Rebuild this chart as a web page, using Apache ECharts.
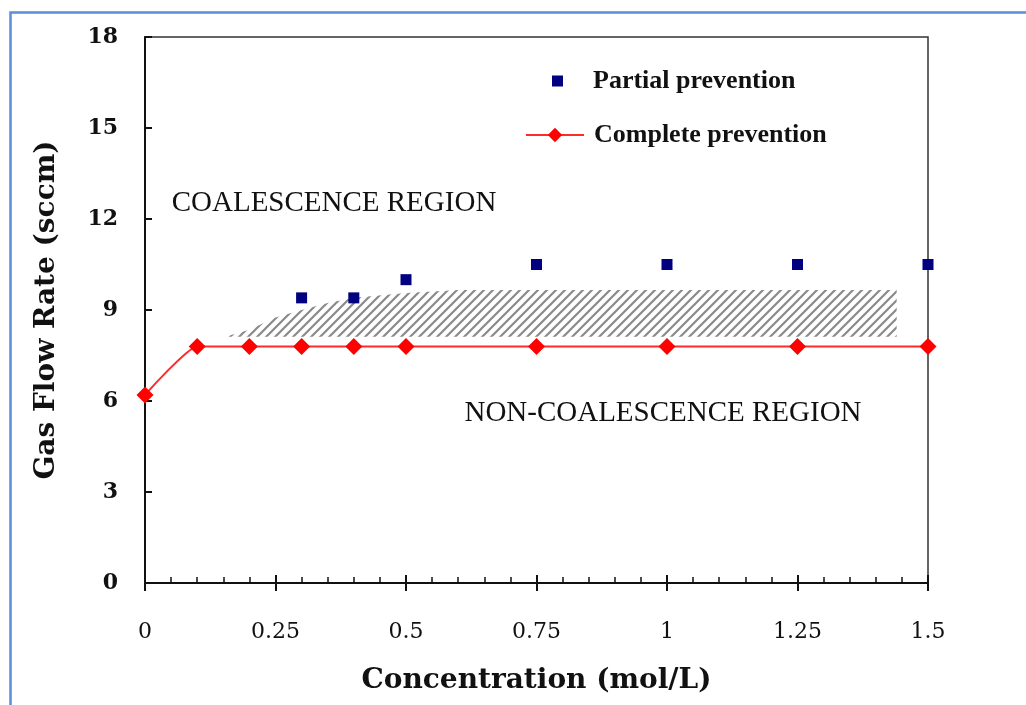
<!DOCTYPE html>
<html>
<head>
<meta charset="utf-8">
<script src="https://cdn.jsdelivr.net/npm/echarts@6/dist/echarts.min.js"></script>
<style>html,body{margin:0;padding:0;background:#fff}#c{width:1026px;height:705px}</style>
</head>
<body>
<div id="c"></div>
<script>
// ---- data ----
const partialX = [0.3, 0.4, 0.5, 0.75, 1.0, 1.25, 1.5];
const partialY = [9.4, 9.4, 10.0, 10.5, 10.5, 10.5, 10.5];
const completeX = [0, 0.1, 0.2, 0.3, 0.4, 0.5, 0.75, 1.0, 1.25, 1.5];
const completeY = [6.2, 7.8, 7.8, 7.8, 7.8, 7.8, 7.8, 7.8, 7.8, 7.8];
// hatched transition band (upper boundary and lower boundary)
const bandX = [0.16, 0.2, 0.25, 0.3, 0.35, 0.4, 0.5, 0.6, 1.44];
const bandUpper = [8.15, 8.35, 8.75, 9.0, 9.23, 9.4, 9.56, 9.66, 9.66];
const bandLower = [8.12, 8.12, 8.12, 8.12, 8.12, 8.12, 8.12, 8.12, 8.12];
const seriesNames = ['Partial prevention', 'Complete prevention'];
const regionLabels = ['COALESCENCE REGION', 'NON-COALESCENCE REGION'];
const xTitle = 'Concentration (mol/L)';
const yTitle = 'Gas Flow Rate (sccm)';

const FONT = '"Liberation Serif", "Times New Roman", serif';
const WIDE = '"DejaVu Serif", "Liberation Serif", serif';

// hatch pattern
const pc = document.createElement('canvas');
pc.width = 9; pc.height = 9;
const g = pc.getContext('2d');
g.strokeStyle = '#8a8a8a';
g.lineWidth = 2.2;
g.beginPath();
g.moveTo(-1, 10); g.lineTo(10, -1);
g.moveTo(-1, 1); g.lineTo(1, -1);
g.moveTo(8, 10); g.lineTo(10, 8);
g.stroke();

const chart = echarts.init(document.getElementById('c'), null, {renderer: 'canvas'});

const option = {
  animation: false,
  backgroundColor: '#fff',
  grid: {left: 145, top: 37, right: 98, bottom: 122, show: true, borderColor: '#333', borderWidth: 1.5, backgroundColor: 'transparent'},
  legend: [
    {data: [seriesNames[0]], left: 547, top: 63, itemWidth: 11, itemHeight: 11, icon: 'rect',
     textStyle: {fontFamily: FONT, fontSize: 26, fontWeight: 'bold', color: '#111', padding: [0, 0, 0, 25]}},
    {data: [seriesNames[1]], left: 520, top: 117, itemWidth: 58, itemHeight: 18,
     textStyle: {fontFamily: FONT, fontSize: 26, fontWeight: 'bold', color: '#111', padding: [0, 0, 0, 5]}}
  ],
  xAxis: [
    {type: 'value', position: 'bottom', min: 0, max: 1.5, interval: 0.25,
     name: xTitle, nameLocation: 'middle', nameGap: 84,
     nameTextStyle: {fontFamily: WIDE, fontSize: 28, fontWeight: 'bold', color: '#111'},
     axisLine: {show: true, lineStyle: {color: '#111', width: 2}},
     axisTick: {show: true, inside: true, length: 8, lineStyle: {color: '#111', width: 2}},
     minorTick: {show: true, splitNumber: 5, length: 6, lineStyle: {color: '#111', width: 1.5}},
     splitLine: {show: false},
     axisLabel: {fontFamily: WIDE, fontSize: 22, color: '#111', margin: 38}},
    {type: 'value', position: 'bottom', min: 0, max: 1.5, interval: 0.25,
     axisLine: {show: false},
     axisTick: {show: true, inside: false, length: 8, lineStyle: {color: '#111', width: 2}},
     axisLabel: {show: false}, splitLine: {show: false}}
  ],
  yAxis: {type: 'value', min: 0, max: 18, interval: 3,
    name: yTitle, nameLocation: 'middle', nameGap: 84, nameRotate: 90,
    nameTextStyle: {fontFamily: WIDE, fontSize: 28, fontWeight: 'bold', color: '#111'},
    axisLine: {show: true, lineStyle: {color: '#111', width: 2}},
    axisTick: {show: true, inside: true, length: 7, lineStyle: {color: '#111', width: 2}},
    splitLine: {show: false},
    axisLabel: {fontFamily: WIDE, fontSize: 22, fontWeight: 'bold', color: '#111', margin: 27}},
  series: [
    {type: 'custom', name: 'band', silent: true, z: 1, xAxisIndex: 0,
     data: [[bandX[0], bandLower[0]]],
     renderItem: function (params, api) {
       const pts = [];
       for (let i = 0; i < bandX.length; i++) pts.push(api.coord([bandX[i], bandUpper[i]]));
       for (let i = bandX.length - 1; i >= 0; i--) pts.push(api.coord([bandX[i], bandLower[i]]));
       return {type: 'polygon', shape: {points: pts},
               style: {fill: {image: pc, repeat: 'repeat'}, stroke: null}};
     }},
    {type: 'line', name: seriesNames[1], xAxisIndex: 0, z: 3,
     data: completeX.map((x, i) => [x, completeY[i]]),
     smooth: 0.15, symbol: 'diamond', symbolSize: 17, clip: false,
     lineStyle: {color: '#ff2a2a', width: 2}, itemStyle: {color: '#ff0000', opacity: 1}},
    {type: 'scatter', name: seriesNames[0], xAxisIndex: 0, z: 4,
     data: partialX.map((x, i) => [x, partialY[i]]),
     symbol: 'rect', symbolSize: 11, clip: false, itemStyle: {color: '#000080', opacity: 1}}
  ],
  graphic: [
    {type: 'rect', left: 8, top: 10, shape: {width: 1040, height: 720}, silent: true,
     style: {fill: null, stroke: '#5b8fd6', lineWidth: 2.5}},
    {type: 'text', x: 334, y: 203, silent: true,
     style: {text: regionLabels[0], font: '29px ' + FONT, fill: '#111', textAlign: 'center', textVerticalAlign: 'middle'}},
    {type: 'text', x: 663, y: 413, silent: true,
     style: {text: regionLabels[1], font: '29px ' + FONT, fill: '#111', textAlign: 'center', textVerticalAlign: 'middle'}}
  ]
};
chart.setOption(option);
</script>
</body>
</html>
